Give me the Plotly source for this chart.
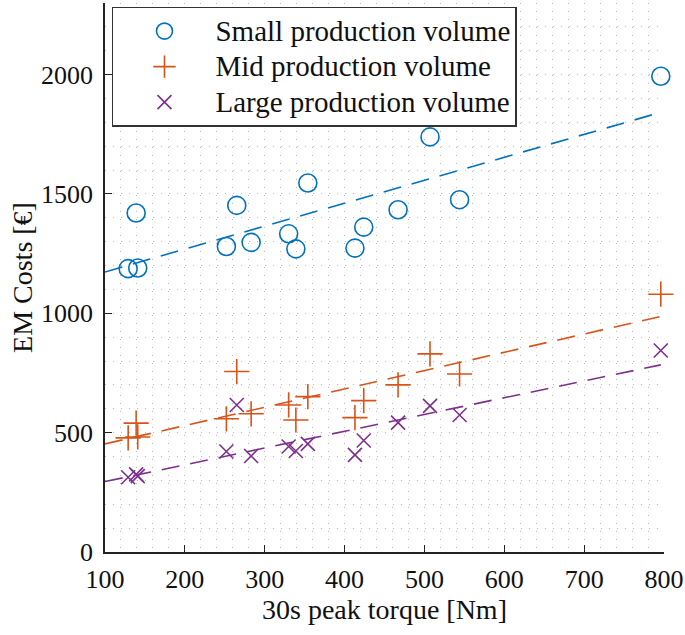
import plotly.graph_objects as go

# Data
torque = [129, 139, 141, 252, 265, 283, 330, 339, 354, 413, 424, 467, 507, 544, 796]
cost_small = [1187, 1420, 1190, 1280, 1452, 1297, 1333, 1270, 1546, 1273, 1361, 1434, 1739, 1476, 1993]
cost_mid = [478, 540, 482, 558, 756, 579, 616, 553, 651, 563, 634, 700, 830, 746, 1080]
cost_large = [313, 325, 318, 421, 616, 402, 442, 423, 453, 407, 467, 542, 612, 574, 844]

trend_x = [100, 796]
trend_small = [1173, 1842]
trend_mid = [453, 987]
trend_large = [295, 784]

names = ["Small production volume", "Mid production volume", "Large production volume"]
colors = ["#0072BD", "#D95319", "#7E2F8E"]

x_ticks = [100, 200, 300, 400, 500, 600, 700, 800]
y_ticks = [0, 500, 1000, 1500, 2000]

FONT = "Liberation Serif"

fig = go.Figure()

series = [
    (cost_small, trend_small, "circle-open", 18),
    (cost_mid, trend_mid, "cross-thin-open", 18),
    (cost_large, trend_large, "x-thin-open", 14),
]
for (vals, trend, sym, size), name, col in zip(series, names, colors):
    fig.add_trace(go.Scatter(
        x=trend_x, y=trend, mode="lines", showlegend=False,
        line=dict(color=col, width=1.6, dash="18px,11px"), hoverinfo="skip"))
for (vals, trend, sym, size), name, col in zip(series, names, colors):
    fig.add_trace(go.Scatter(
        x=torque, y=vals, mode="markers", cliponaxis=False,
        name='<span style="font-size:29px">' + name + '</span>',
        marker=dict(symbol=sym, size=size, color=col,
                    line=dict(color=col, width=1.6))))

grid_style = dict(gridcolor="#b8b8b8", gridwidth=1, griddash="1px,7px")

axis_common = dict(
    showline=True, linecolor="#222", linewidth=1.5,
    ticks="inside", ticklen=7, tickwidth=1.2, tickcolor="#222",
    showgrid=True, zeroline=False, mirror=False, automargin=False,
    tickfont=dict(family=FONT, size=26, color="#111"),
    **grid_style,
)

fig.update_xaxes(
    range=[100, 800], tickvals=x_ticks, ticklabelstandoff=3,
    title=dict(text="30s peak torque [Nm]", font=dict(family=FONT, size=28, color="#111"), standoff=4),
    minor=dict(dtick=20, showgrid=True, ticks="", **grid_style),
    **axis_common)
fig.update_yaxes(
    range=[0, 2300], tickvals=y_ticks, ticklabelstandoff=5,
    title=dict(text="EM Costs [€]", font=dict(family=FONT, size=28, color="#111"), standoff=0),
    minor=dict(dtick=100, showgrid=True, ticks="", **grid_style),
    **axis_common)

fig.update_layout(
    width=685, height=635,
    margin=dict(l=105, r=21, t=3, b=83),
    paper_bgcolor="white", plot_bgcolor="white",
    font=dict(family=FONT, size=28, color="#111"),
    showlegend=True,
    legend=dict(
        x=0.0125, y=0.993, xanchor="left", yanchor="top",
        bgcolor="white", bordercolor="#333", borderwidth=1.5,
        font=dict(family=FONT, size=25, color="#111"),
        itemwidth=92, tracegroupgap=0,
    ),
)

fig.write_html("out.html", config={"displayModeBar": False},
               post_script="document.body.style.margin='0px';")
